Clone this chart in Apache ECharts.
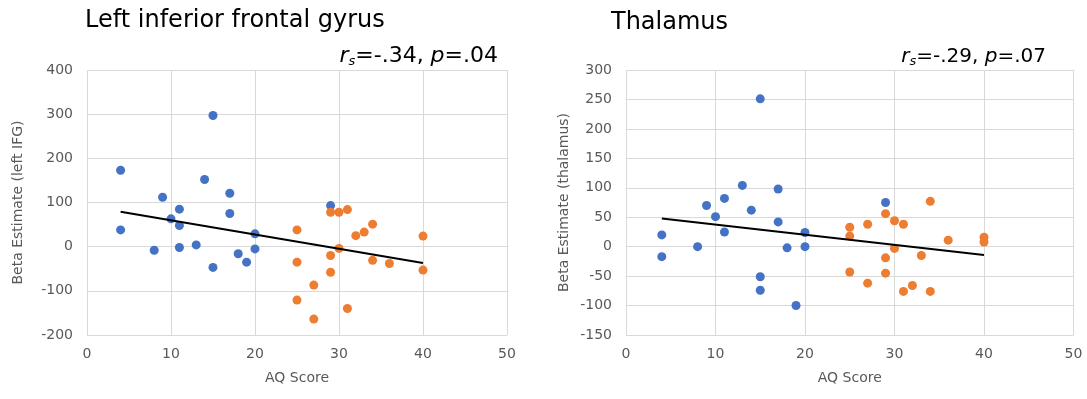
<!DOCTYPE html>
<html>
<head>
<meta charset="utf-8">
<script src="https://cdn.jsdelivr.net/npm/echarts@6/dist/echarts.min.js"></script>
<style>
  html, body { margin: 0; padding: 0; background: #fff; }
  #chart { width: 1087px; height: 399px; }
</style>
</head>
<body>
<div id="chart"></div>
<script>
// Left inferior frontal gyrus
const ifgBlueAQ = [4, 15, 14, 9, 17, 11, 10, 17, 11, 4, 20, 13, 11, 8, 20, 18, 19, 15, 29];
const ifgBlueBeta = [173, 297, 152, 112, 121, 85, 63, 75, 48, 38, 29, 4, -2, -8, -5, -16, -35, -47, 93];
const ifgOrangeAQ = [29, 30, 31, 25, 34, 32, 33, 40, 30, 29, 25, 34, 36, 40, 29, 27, 25, 31, 27];
const ifgOrangeBeta = [78, 78, 84, 38, 51, 25, 33, 24, -4, -20, -35, -31, -38, -53, -58, -87, -121, -140, -164];
const ifgTrendAQ = [4, 40];
const ifgTrendBeta = [79, -37];

// Thalamus
const thalBlueAQ = [15, 13, 17, 11, 9, 14, 10, 17, 4, 11, 20, 8, 18, 20, 4, 15, 15, 19, 29];
const thalBlueBeta = [251, 104, 98, 82, 70, 62, 51, 42, 20, 25, 24, 0, -2, 0, -17, -51, -74, -100, 75];
const thalOrangeAQ = [34, 29, 30, 31, 27, 25, 25, 36, 40, 40, 30, 33, 29, 25, 29, 27, 32, 31, 34];
const thalOrangeBeta = [77, 56, 44, 38, 38, 33, 18, 11, 16, 8, -3, -15, -19, -43, -45, -62, -66, -76, -76];
const thalTrendAQ = [4, 40];
const thalTrendBeta = [48, -14];

const pairs = (xs, ys) => xs.map((x, i) => [x, ys[i]]);

const font = "DejaVu Sans";
const blue = "#4472C4";
const orange = "#ED7D31";
const gridColor = "#D9D9D9";
const labelColor = "#595959";

const xAxisFor = (gi) => ({
  type: "value",
  gridIndex: gi,
  min: 0,
  max: 50,
  interval: 10,
  name: "AQ Score",
  nameLocation: "middle",
  nameGap: 36,
  nameTextStyle: { color: labelColor, fontSize: 14, fontFamily: font },
  axisLine: { show: false },
  axisTick: { show: false },
  axisLabel: { color: labelColor, fontSize: 14, fontFamily: font, margin: 12 },
  splitLine: { lineStyle: { color: gridColor, width: 1 } },
});

const yAxisFor = (gi, min, max, step, name, gap) => ({
  type: "value",
  gridIndex: gi,
  min: min,
  max: max,
  interval: step,
  name: name,
  nameLocation: "middle",
  nameGap: gap,
  nameTextStyle: { color: labelColor, fontSize: 14, fontFamily: font },
  axisLine: { show: false },
  axisTick: { show: false },
  axisLabel: { color: labelColor, fontSize: 14, fontFamily: font, margin: 14 },
  splitLine: { lineStyle: { color: gridColor, width: 1 } },
});

// r_s and p stats, italic letters with subscript s
const statRich = (size) => ({
  r: { fontStyle: "italic", fontWeight: "normal", fontSize: size, fontFamily: font, color: "#000" },
  s: { fontStyle: "italic", fontWeight: "normal", fontSize: 13, fontFamily: font, color: "#000", padding: [10, 0, 0, 0] },
  t: { fontWeight: "normal", fontSize: size, fontFamily: font, color: "#000" },
});

const myChart = echarts.init(document.getElementById("chart"));
myChart.setOption({
  animation: false,
  title: [
    { text: "Left inferior frontal gyrus", left: 80, top: 4,
      textStyle: { fontSize: 24, fontWeight: "normal", fontFamily: font, color: "#000" } },
    { text: "{r|r}{s|s}{t|=-.34, }{r|p}{t|=.04}", right: 584, top: 40,
      textStyle: { fontWeight: "normal", rich: statRich(22) } },
    { text: "Thalamus", left: 606, top: 6,
      textStyle: { fontSize: 24, fontWeight: "normal", fontFamily: font, color: "#000" } },
    { text: "{r|r}{s|s}{t|=-.29, }{r|p}{t|=.07}", right: 36, top: 40,
      textStyle: { fontWeight: "normal", rich: statRich(20) } },
  ],
  grid: [
    { left: 87, right: 580, top: 70, bottom: 64 },
    { left: 626, right: 13.5, top: 70, bottom: 64 },
  ],
  xAxis: [xAxisFor(0), xAxisFor(1)],
  yAxis: [
    yAxisFor(0, -200, 400, 100, "Beta Estimate (left IFG)", 62),
    yAxisFor(1, -150, 300, 50, "Beta Estimate (thalamus)", 55),
  ],
  series: [
    { type: "scatter", xAxisIndex: 0, yAxisIndex: 0, data: pairs(ifgBlueAQ, ifgBlueBeta),
      symbolSize: 9, itemStyle: { color: blue, opacity: 1 } },
    { type: "scatter", xAxisIndex: 0, yAxisIndex: 0, data: pairs(ifgOrangeAQ, ifgOrangeBeta),
      symbolSize: 9, itemStyle: { color: orange, opacity: 1 } },
    { type: "line", xAxisIndex: 0, yAxisIndex: 0, data: pairs(ifgTrendAQ, ifgTrendBeta),
      symbol: "none", lineStyle: { color: "#000", width: 2 } },
    { type: "scatter", xAxisIndex: 1, yAxisIndex: 1, data: pairs(thalBlueAQ, thalBlueBeta),
      symbolSize: 9, itemStyle: { color: blue, opacity: 1 } },
    { type: "scatter", xAxisIndex: 1, yAxisIndex: 1, data: pairs(thalOrangeAQ, thalOrangeBeta),
      symbolSize: 9, itemStyle: { color: orange, opacity: 1 } },
    { type: "line", xAxisIndex: 1, yAxisIndex: 1, data: pairs(thalTrendAQ, thalTrendBeta),
      symbol: "none", lineStyle: { color: "#000", width: 2 } },
  ],
});
window.addEventListener("resize", function () {
  myChart.resize();
});
</script>
</body>
</html>
